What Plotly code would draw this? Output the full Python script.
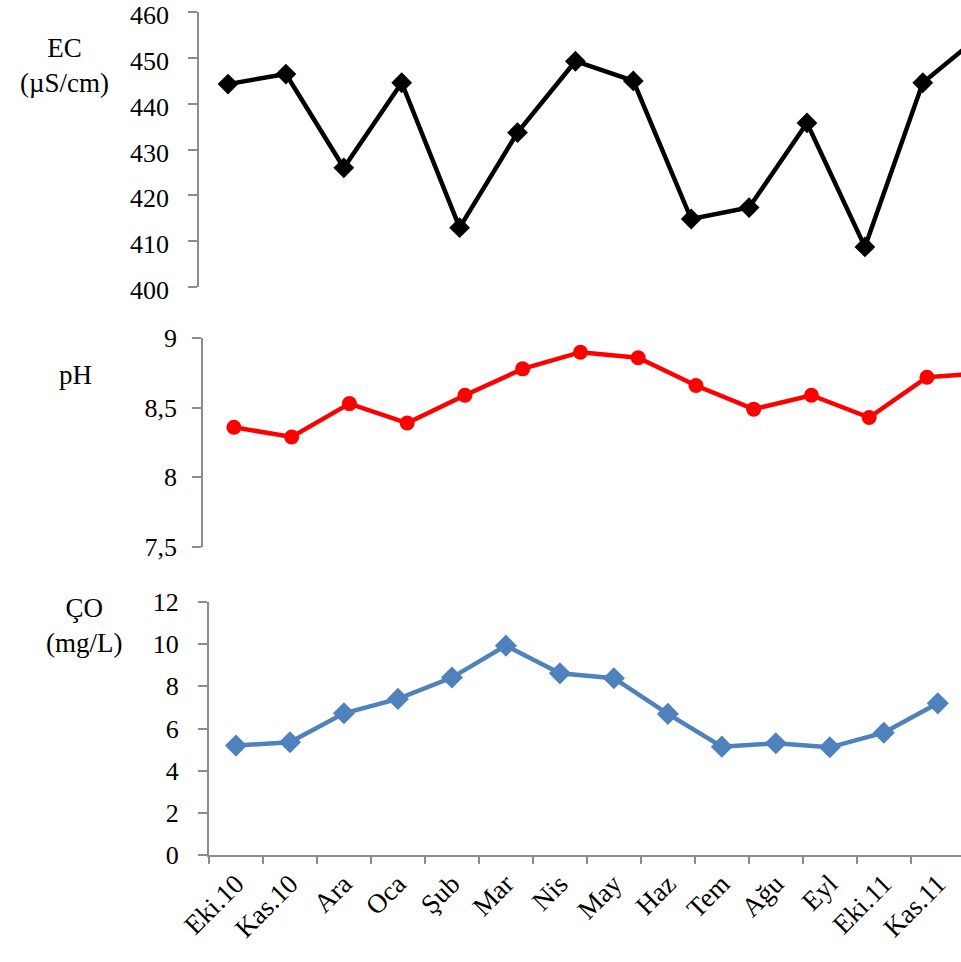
import plotly.graph_objects as go

# Sampling months (Oct 2010 - Nov 2011)
months = ["Eki.10", "Kas.10", "Ara", "Oca", "Şub", "Mar", "Nis",
          "May", "Haz", "Tem", "Ağu", "Eyl", "Eki.11", "Kas.11"]

# Electrical conductivity (µS/cm)
ec = [444.3, 446.5, 426.0, 444.6, 412.9, 433.7, 449.3,
      445.0, 414.8, 417.3, 435.8, 408.7, 444.6, 455.0]

# pH
ph = [8.36, 8.29, 8.53, 8.39, 8.59, 8.78, 8.90,
      8.86, 8.66, 8.49, 8.59, 8.43, 8.72, 8.75]

# Dissolved oxygen (mg/L)
co = [5.19, 5.35, 6.72, 7.40, 8.41, 9.92, 8.61,
      8.38, 6.69, 5.14, 5.30, 5.11, 5.80, 7.19]

FONT = "Liberation Serif"
AXIS_GREY = "#8c8c8c"
W, H = 961, 962

fig = go.Figure()

fig.add_trace(go.Scatter(
    x=months, y=ec, mode="lines+markers", xaxis="x", yaxis="y",
    line=dict(color="black", width=4.5),
    marker=dict(symbol="diamond", size=16, color="black"),
    cliponaxis=True, showlegend=False))

fig.add_trace(go.Scatter(
    x=months, y=ph, mode="lines+markers", xaxis="x2", yaxis="y2",
    line=dict(color="#ff0000", width=4.5),
    marker=dict(symbol="circle", size=15, color="#ff0000"),
    cliponaxis=True, showlegend=False))

fig.add_trace(go.Scatter(
    x=months, y=co, mode="lines+markers", xaxis="x3", yaxis="y3",
    line=dict(color="#4f81bd", width=4.5),
    marker=dict(symbol="diamond", size=17, color="#4f81bd"),
    cliponaxis=True, showlegend=False))


def yaxis(domain, rng, dtick, anchor, standoff, shift=0):
    return dict(
        domain=domain, range=rng, dtick=dtick, anchor=anchor,
        automargin=False, ticklabeloverflow="allow",
        showline=True, linecolor=AXIS_GREY, linewidth=2,
        ticks="outside", ticklen=9, tickwidth=2, tickcolor=AXIS_GREY,
        showgrid=False, zeroline=False, ticklabelstandoff=standoff,
        ticklabelshift=shift,
        tickfont=dict(family=FONT, size=26, color="black"),
    )


def xhidden(domain, rng, anchor):
    return dict(domain=domain, range=rng, anchor=anchor, type="category",
                categoryorder="array", categoryarray=months,
                visible=False, automargin=False)


fig.update_layout(
    width=W, height=H,
    margin=dict(l=0, r=0, t=0, b=0, pad=0),
    paper_bgcolor="white", plot_bgcolor="white",
    separators=",.",
    font=dict(family=FONT, color="black"),
    xaxis=xhidden([199.3 / W, 1], [-0.496, 12.66], "y"),
    xaxis2=xhidden([203.3 / W, 1], [-0.53, 12.59], "y2"),
    xaxis3=dict(
        domain=[209 / W, 1], range=[-0.5, 13.43], anchor="y3",
        automargin=False, ticklabeloverflow="allow",
        type="category", categoryorder="array", categoryarray=months,
        showline=True, linecolor=AXIS_GREY, linewidth=2,
        ticks="outside", ticklen=7, tickwidth=2, tickcolor=AXIS_GREY,
        tickson="boundaries", tickangle=-45, showgrid=False,
        tickfont=dict(family=FONT, size=27, color="black"),
    ),
    yaxis=yaxis([1 - 286.7 / H, 1 - 12.3 / H], [400, 460], 10, "x", 14, 3),
    yaxis2=yaxis([1 - 546.7 / H, 1 - 338.3 / H], [7.5, 9], 0.5, "x2", 10),
    yaxis3=yaxis([1 - 855.3 / H, 1 - 601.7 / H], [0, 12], 2, "x3", 14),
)

titles = [
    ("EC<br>(µS/cm)", 64, 66),
    ("pH", 75, 375),
    ("ÇO<br>(mg/L)", 84, 625),
]
for text, px, py in titles:
    fig.add_annotation(
        text=text, xref="paper", yref="paper",
        x=px / W, y=1 - py / H, xanchor="center", yanchor="middle",
        showarrow=False, align="center",
        font=dict(family=FONT, size=27, color="black"))

fig.write_html("out.html")
